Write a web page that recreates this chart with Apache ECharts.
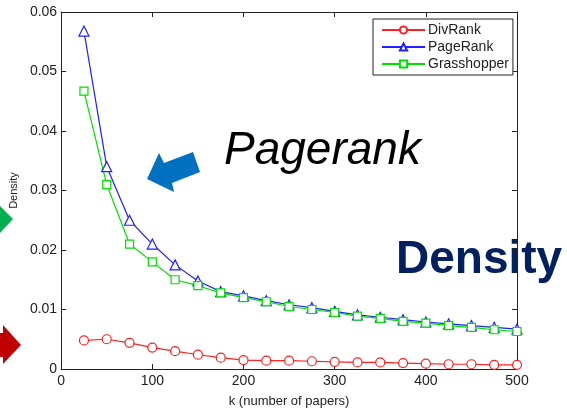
<!DOCTYPE html>
<html>
<head>
<meta charset="utf-8">
<script src="https://cdn.jsdelivr.net/npm/echarts@6/dist/echarts.min.js"></script>
<style>
html,body{margin:0;padding:0;background:#fff;}
#chart{width:567px;height:413px;}
</style>
</head>
<body>
<div id="chart"></div>
<script>
var kValues = [25,50,75,100,125,150,175,200,225,250,275,300,325,350,375,400,425,450,475,500];
var divRank = [0.0048,0.0050,0.0044,0.0036,0.0030,0.0024,0.0019,0.0015,0.0014,0.0014,0.0013,0.0012,0.0011,0.0011,0.0010,0.0009,0.0008,0.0008,0.0007,0.0007];
var pageRank = [0.0568,0.0340,0.0250,0.0210,0.0175,0.0148,0.0130,0.0123,0.0115,0.0108,0.0103,0.0097,0.0091,0.0087,0.0083,0.0079,0.0076,0.0073,0.0070,0.0067];
var grasshopper = [0.0467,0.0310,0.0210,0.0180,0.0150,0.0140,0.0128,0.0120,0.0113,0.0105,0.0100,0.0095,0.0089,0.0085,0.0080,0.0077,0.0073,0.0070,0.0066,0.0063];
var seriesNames = ['DivRank','PageRank','Grasshopper'];
var xTicks = [0,100,200,300,400,500];
var yTicks = [0,0.01,0.02,0.03,0.04,0.05,0.06];

function pairs(vals){ return kValues.map(function(k,i){ return [k, vals[i]]; }); }

var FONT = '"Liberation Sans", Arial, sans-serif';
var chart = echarts.init(document.getElementById('chart'), null, {renderer:'canvas'});

var frameLine = {show:true, onZero:false, lineStyle:{color:'#222', width:1}};
var tick = {show:true, inside:true, length:5, lineStyle:{color:'#222', width:1}};

function mkSeries(name, vals, color, symbol, size){
  return {
    name:name, type:'line', data:pairs(vals), clip:false,
    symbol:symbol, symbolSize:size,
    lineStyle:{color:color, width:1.2},
    itemStyle:{color:'#fff', borderColor:color, borderWidth:1.2},
    color:color,
    emphasis:{disabled:true}, animation:false
  };
}

chart.setOption({
  animation:false,
  backgroundColor:'#fff',
  grid:{left:61, right:50, top:12, bottom:40},
  legend:{
    orient:'vertical', left:373, top:19,
    backgroundColor:'#fff', borderColor:'#222', borderWidth:1, borderRadius:0,
    padding:[4,4,4,8], itemGap:3, itemWidth:43, itemHeight:9,
    data:seriesNames,
    textStyle:{fontFamily:FONT, fontSize:14, color:'#222', padding:[0,0,0,-2]}
  },
  xAxis:[{
    type:'value', min:xTicks[0], max:xTicks[xTicks.length-1], interval:100,
    name:'k (number of papers)', nameLocation:'middle', nameGap:26,
    nameTextStyle:{fontFamily:FONT, fontSize:13, color:'#222'},
    axisLine:frameLine, axisTick:tick, splitLine:{show:false},
    axisLabel:{fontFamily:FONT, fontSize:14, color:'#222', margin:5}
  },{
    type:'value', position:'top', min:xTicks[0], max:xTicks[xTicks.length-1], interval:100,
    axisLine:frameLine, axisTick:tick, splitLine:{show:false}, axisLabel:{show:false}
  }],
  yAxis:[{
    type:'value', min:yTicks[0], max:yTicks[yTicks.length-1], interval:0.01,
    name:'Density', nameLocation:'middle', nameGap:41,
    nameTextStyle:{fontFamily:FONT, fontSize:11, color:'#222'},
    axisLine:frameLine, axisTick:tick, splitLine:{show:false},
    axisLabel:{fontFamily:FONT, fontSize:14, color:'#222', margin:4}
  },{
    type:'value', position:'right', min:yTicks[0], max:yTicks[yTicks.length-1], interval:0.01,
    axisLine:frameLine, axisTick:tick, splitLine:{show:false}, axisLabel:{show:false}
  }],
  series:[
    mkSeries(seriesNames[0], divRank, '#ff2020', 'circle', 9),
    mkSeries(seriesNames[1], pageRank, '#2020ff', 'triangle', 10),
    mkSeries(seriesNames[2], grasshopper, '#00e000', 'rect', 8)
  ],
  graphic:[
    {type:'polygon', shape:{points:[[147,179],[159,153],[164,163],[193,152],[200,172],[172,183],[174,192]]}, style:{fill:'#0070c0'}, silent:true},
    {type:'polygon', shape:{points:[[0,206],[13,219],[0,233]]}, style:{fill:'#00b050'}, silent:true},
    {type:'polygon', shape:{points:[[0,333],[3,333],[3,325],[21,345],[3,364],[3,357],[0,357]]}, style:{fill:'#c00000'}, silent:true},
    {type:'text', x:224, y:151, style:{text:'Pagerank', font:'italic 46px "Liberation Sans", Arial, sans-serif', fill:'#000', textVerticalAlign:'middle'}, silent:true},
    {type:'text', x:396, y:260, style:{text:'Density', font:'bold 46px "Liberation Sans", Arial, sans-serif', fill:'#002060', textVerticalAlign:'middle'}, silent:true}
  ]
});
</script>
</body>
</html>
